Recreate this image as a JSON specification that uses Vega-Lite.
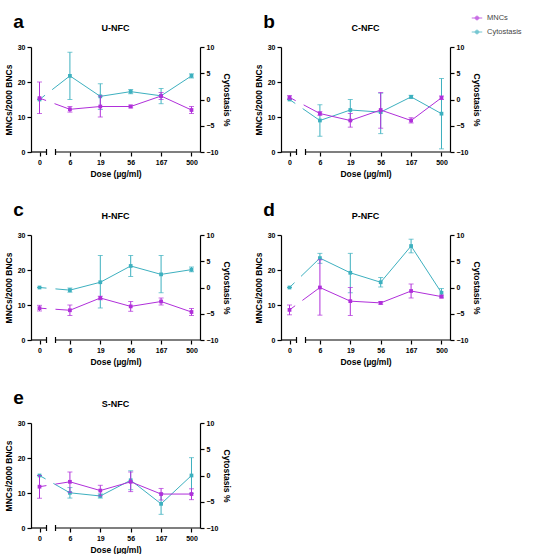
{
"$schema":"https://vega.github.io/schema/vega-lite/v6.json",
"padding":{"left":4,"top":12,"right":0,"bottom":0},
"background":"white",
"data":{"values":[
{"panel":"a","series":"MNCs","dose":"0","mean":15.4,"lo":11,"hi":20},
{"panel":"a","series":"MNCs","dose":"6","mean":12.2,"lo":11.4,"hi":13},
{"panel":"a","series":"MNCs","dose":"19","mean":13,"lo":10,"hi":16},
{"panel":"a","series":"MNCs","dose":"56","mean":13,"lo":12.6,"hi":13.4},
{"panel":"a","series":"MNCs","dose":"167","mean":16,"lo":15,"hi":17},
{"panel":"a","series":"MNCs","dose":"500","mean":12,"lo":11,"hi":13},
{"panel":"a","series":"Cytostasis","dose":"0","mean":0,"lo":0,"hi":0},
{"panel":"a","series":"Cytostasis","dose":"6","mean":4.5,"lo":0,"hi":9},
{"panel":"a","series":"Cytostasis","dose":"19","mean":0.6,"lo":-1.9,"hi":3},
{"panel":"a","series":"Cytostasis","dose":"56","mean":1.5,"lo":1.1,"hi":1.9},
{"panel":"a","series":"Cytostasis","dose":"167","mean":0.7,"lo":-0.8,"hi":2.1},
{"panel":"a","series":"Cytostasis","dose":"500","mean":4.5,"lo":4.1,"hi":4.9},
{"panel":"b","series":"MNCs","dose":"0","mean":15.6,"lo":15.1,"hi":16.1},
{"panel":"b","series":"MNCs","dose":"6","mean":11,"lo":10.5,"hi":11.5},
{"panel":"b","series":"MNCs","dose":"19","mean":9,"lo":7.1,"hi":11},
{"panel":"b","series":"MNCs","dose":"56","mean":12,"lo":6.8,"hi":17},
{"panel":"b","series":"MNCs","dose":"167","mean":9,"lo":8.3,"hi":9.8},
{"panel":"b","series":"MNCs","dose":"500","mean":15.5,"lo":15,"hi":16},
{"panel":"b","series":"Cytostasis","dose":"0","mean":0,"lo":0,"hi":0},
{"panel":"b","series":"Cytostasis","dose":"6","mean":-4,"lo":-7,"hi":-1},
{"panel":"b","series":"Cytostasis","dose":"19","mean":-2,"lo":-4,"hi":0},
{"panel":"b","series":"Cytostasis","dose":"56","mean":-2.4,"lo":-6.5,"hi":1.2},
{"panel":"b","series":"Cytostasis","dose":"167","mean":0.5,"lo":0.2,"hi":0.8},
{"panel":"b","series":"Cytostasis","dose":"500","mean":-2.7,"lo":-9.4,"hi":4},
{"panel":"c","series":"MNCs","dose":"0","mean":9.1,"lo":8.3,"hi":9.9},
{"panel":"c","series":"MNCs","dose":"6","mean":8.5,"lo":7,"hi":10},
{"panel":"c","series":"MNCs","dose":"19","mean":12,"lo":11.5,"hi":12.5},
{"panel":"c","series":"MNCs","dose":"56","mean":9.6,"lo":8.2,"hi":11},
{"panel":"c","series":"MNCs","dose":"167","mean":11,"lo":10,"hi":12},
{"panel":"c","series":"MNCs","dose":"500","mean":8,"lo":7,"hi":9},
{"panel":"c","series":"Cytostasis","dose":"0","mean":0,"lo":0,"hi":0},
{"panel":"c","series":"Cytostasis","dose":"6","mean":-0.5,"lo":-0.9,"hi":-0.1},
{"panel":"c","series":"Cytostasis","dose":"19","mean":1,"lo":-3.9,"hi":6.1},
{"panel":"c","series":"Cytostasis","dose":"56","mean":4.1,"lo":2.1,"hi":6.1},
{"panel":"c","series":"Cytostasis","dose":"167","mean":2.5,"lo":-1,"hi":6.1},
{"panel":"c","series":"Cytostasis","dose":"500","mean":3.4,"lo":3,"hi":3.9},
{"panel":"d","series":"MNCs","dose":"0","mean":8.6,"lo":7.2,"hi":10},
{"panel":"d","series":"MNCs","dose":"6","mean":15,"lo":7.1,"hi":22.9},
{"panel":"d","series":"MNCs","dose":"19","mean":11.1,"lo":7,"hi":15},
{"panel":"d","series":"MNCs","dose":"56","mean":10.6,"lo":10.2,"hi":11},
{"panel":"d","series":"MNCs","dose":"167","mean":14,"lo":12,"hi":16},
{"panel":"d","series":"MNCs","dose":"500","mean":12.4,"lo":12,"hi":12.8},
{"panel":"d","series":"Cytostasis","dose":"0","mean":0,"lo":0,"hi":0},
{"panel":"d","series":"Cytostasis","dose":"6","mean":5.6,"lo":4.6,"hi":6.5},
{"panel":"d","series":"Cytostasis","dose":"19","mean":2.8,"lo":-1,"hi":6.5},
{"panel":"d","series":"Cytostasis","dose":"56","mean":1,"lo":0.1,"hi":1.9},
{"panel":"d","series":"Cytostasis","dose":"167","mean":7.9,"lo":6.6,"hi":9.2},
{"panel":"d","series":"Cytostasis","dose":"500","mean":-1,"lo":-1.8,"hi":-0.2},
{"panel":"e","series":"MNCs","dose":"0","mean":11.8,"lo":8.5,"hi":15},
{"panel":"e","series":"MNCs","dose":"6","mean":13.2,"lo":10.2,"hi":16},
{"panel":"e","series":"MNCs","dose":"19","mean":10.7,"lo":9.2,"hi":12.2},
{"panel":"e","series":"MNCs","dose":"56","mean":13.2,"lo":10.4,"hi":16},
{"panel":"e","series":"MNCs","dose":"167","mean":9.7,"lo":8,"hi":11.3},
{"panel":"e","series":"MNCs","dose":"500","mean":9.7,"lo":8.1,"hi":11.2},
{"panel":"e","series":"Cytostasis","dose":"0","mean":0,"lo":0,"hi":0},
{"panel":"e","series":"Cytostasis","dose":"6","mean":-3.3,"lo":-4.3,"hi":-2.3},
{"panel":"e","series":"Cytostasis","dose":"19","mean":-3.9,"lo":-4.3,"hi":-3.5},
{"panel":"e","series":"Cytostasis","dose":"56","mean":-0.9,"lo":-2.7,"hi":0.9},
{"panel":"e","series":"Cytostasis","dose":"167","mean":-5.4,"lo":-7.4,"hi":-3.4},
{"panel":"e","series":"Cytostasis","dose":"500","mean":0,"lo":-3.4,"hi":3.4}
]},
"spacing":23,
"vconcat":[
{"hconcat":[
{"title":{"text":"a","anchor":"start","fontSize":19,"frame":"bounds","dx":9,"offset":-8},
 "vconcat":[{
 "width":169,"height":105,
 "title":{"text":"U-NFC","fontSize":9,"offset":10},
 "transform":[{"filter":"datum.panel == 'a'"}],
 "encoding":{
  "x":{"field":"dose","type":"ordinal","scale":{"type":"point","domain":["0","6","19","56","167","500"],"padding":0.28},"axis":{"title":"Dose (µg/ml)","domain":false,"labelAngle":0}},
  "color":{"field":"series","type":"nominal","scale":{"domain":["MNCs","Cytostasis"],"range":["#B02FDA","#3DB0BF"]},"legend":{"title":null,"orient":"none","legendX":440,"legendY":-35,"labelFontSize":7.5,"labelFontWeight":"normal","labelColor":"#444","symbolType":"M-1,0L1,0M-0.35,0A0.35,0.35 0 1,0 0.35,0A0.35,0.35 0 1,0 -0.35,0","symbolSize":110,"symbolStrokeWidth":1,"rowPadding":4}}
 },
 "layer":[
  {"transform":[{"filter":"datum.series == 'Cytostasis'"}],
   "encoding":{"y":{"field":"mean","type":"quantitative","title":"Cytostasis %","scale":{"domain":[-10,10]},"axis":{"orient":"right","values":[-10,-5,0,5,10]}}},
   "layer":[
    {"transform":[{"filter":"datum.dose != '0'"}],"mark":{"type":"line","strokeWidth":1}},
    {"transform":[{"filter":"datum.dose == '0' || datum.dose == '6'"}],"mark":{"type":"line","strokeWidth":1,"strokeDash":[7,9,60,0]}},
    {"mark":{"type":"errorbar","ticks":{"size":5},"thickness":1},"encoding":{"y":{"field":"lo","type":"quantitative","title":"Cytostasis %"},"y2":{"field":"hi"}}},
    {"mark":{"type":"point","shape":"square","filled":true,"size":14,"opacity":1}}
   ]},
  {"transform":[{"filter":"datum.series == 'MNCs'"}],
   "encoding":{"y":{"field":"mean","type":"quantitative","title":"MNCs/2000 BNCs","scale":{"domain":[0,30]},"axis":{"values":[0,10,20,30]}}},
   "layer":[
    {"transform":[{"filter":"datum.dose != '0'"}],"mark":{"type":"line","strokeWidth":1}},
    {"transform":[{"filter":"datum.dose == '0' || datum.dose == '6'"}],"mark":{"type":"line","strokeWidth":1,"strokeDash":[7,9,60,0]}},
    {"mark":{"type":"errorbar","ticks":{"size":5},"thickness":1},"encoding":{"y":{"field":"lo","type":"quantitative","title":"MNCs/2000 BNCs"},"y2":{"field":"hi"}}},
    {"mark":{"type":"point","shape":"square","filled":true,"size":14,"opacity":1}},
    {"transform":[{"filter":"datum.dose == '0'"}],"mark":{"type":"rule","strokeWidth":1.2,"xOffset":-8.5,"x2Offset":7},"encoding":{"x":{"field":"dose","type":"ordinal"},"x2":{"field":"dose"},"y":{"value":"height"},"color":{"value":"black"}}},
    {"transform":[{"filter":"datum.dose == '0'"}],"mark":{"type":"rule","strokeWidth":1.2,"xOffset":16,"x2Offset":160.5},"encoding":{"x":{"field":"dose","type":"ordinal"},"x2":{"field":"dose"},"y":{"value":"height"},"color":{"value":"black"}}},
    {"transform":[{"filter":"datum.dose == '0'"}],"mark":{"type":"rule","strokeWidth":1.2,"xOffset":7,"yOffset":-3,"y2Offset":3},"encoding":{"x":{"field":"dose","type":"ordinal"},"y":{"value":"height"},"y2":{"value":"height"},"color":{"value":"black"}}},
    {"transform":[{"filter":"datum.dose == '0'"}],"mark":{"type":"rule","strokeWidth":1.2,"xOffset":16,"yOffset":-3,"y2Offset":3},"encoding":{"x":{"field":"dose","type":"ordinal"},"y":{"value":"height"},"y2":{"value":"height"},"color":{"value":"black"}}}
   ]}
 ],
 "resolve":{"scale":{"y":"independent"}}
 }]},
{"title":{"text":"b","anchor":"start","fontSize":19,"frame":"bounds","dx":9,"offset":-8},
 "vconcat":[{
 "width":169,"height":105,
 "title":{"text":"C-NFC","fontSize":9,"offset":10},
 "transform":[{"filter":"datum.panel == 'b'"}],
 "encoding":{
  "x":{"field":"dose","type":"ordinal","scale":{"type":"point","domain":["0","6","19","56","167","500"],"padding":0.28},"axis":{"title":"Dose (µg/ml)","domain":false,"labelAngle":0}},
  "color":{"field":"series","type":"nominal","scale":{"domain":["MNCs","Cytostasis"],"range":["#B02FDA","#3DB0BF"]},"legend":{"title":null,"orient":"none","legendX":440,"legendY":-35,"labelFontSize":7.5,"labelFontWeight":"normal","labelColor":"#444","symbolType":"M-1,0L1,0M-0.35,0A0.35,0.35 0 1,0 0.35,0A0.35,0.35 0 1,0 -0.35,0","symbolSize":110,"symbolStrokeWidth":1,"rowPadding":4}}
 },
 "layer":[
  {"transform":[{"filter":"datum.series == 'Cytostasis'"}],
   "encoding":{"y":{"field":"mean","type":"quantitative","title":"Cytostasis %","scale":{"domain":[-10,10]},"axis":{"orient":"right","values":[-10,-5,0,5,10]}}},
   "layer":[
    {"transform":[{"filter":"datum.dose != '0'"}],"mark":{"type":"line","strokeWidth":1}},
    {"transform":[{"filter":"datum.dose == '0' || datum.dose == '6'"}],"mark":{"type":"line","strokeWidth":1,"strokeDash":[7,9,60,0]}},
    {"mark":{"type":"errorbar","ticks":{"size":5},"thickness":1},"encoding":{"y":{"field":"lo","type":"quantitative","title":"Cytostasis %"},"y2":{"field":"hi"}}},
    {"mark":{"type":"point","shape":"square","filled":true,"size":14,"opacity":1}}
   ]},
  {"transform":[{"filter":"datum.series == 'MNCs'"}],
   "encoding":{"y":{"field":"mean","type":"quantitative","title":"MNCs/2000 BNCs","scale":{"domain":[0,30]},"axis":{"values":[0,10,20,30]}}},
   "layer":[
    {"transform":[{"filter":"datum.dose != '0'"}],"mark":{"type":"line","strokeWidth":1}},
    {"transform":[{"filter":"datum.dose == '0' || datum.dose == '6'"}],"mark":{"type":"line","strokeWidth":1,"strokeDash":[7,9,60,0]}},
    {"mark":{"type":"errorbar","ticks":{"size":5},"thickness":1},"encoding":{"y":{"field":"lo","type":"quantitative","title":"MNCs/2000 BNCs"},"y2":{"field":"hi"}}},
    {"mark":{"type":"point","shape":"square","filled":true,"size":14,"opacity":1}},
    {"transform":[{"filter":"datum.dose == '0'"}],"mark":{"type":"rule","strokeWidth":1.2,"xOffset":-8.5,"x2Offset":7},"encoding":{"x":{"field":"dose","type":"ordinal"},"x2":{"field":"dose"},"y":{"value":"height"},"color":{"value":"black"}}},
    {"transform":[{"filter":"datum.dose == '0'"}],"mark":{"type":"rule","strokeWidth":1.2,"xOffset":16,"x2Offset":160.5},"encoding":{"x":{"field":"dose","type":"ordinal"},"x2":{"field":"dose"},"y":{"value":"height"},"color":{"value":"black"}}},
    {"transform":[{"filter":"datum.dose == '0'"}],"mark":{"type":"rule","strokeWidth":1.2,"xOffset":7,"yOffset":-3,"y2Offset":3},"encoding":{"x":{"field":"dose","type":"ordinal"},"y":{"value":"height"},"y2":{"value":"height"},"color":{"value":"black"}}},
    {"transform":[{"filter":"datum.dose == '0'"}],"mark":{"type":"rule","strokeWidth":1.2,"xOffset":16,"yOffset":-3,"y2Offset":3},"encoding":{"x":{"field":"dose","type":"ordinal"},"y":{"value":"height"},"y2":{"value":"height"},"color":{"value":"black"}}}
   ]}
 ],
 "resolve":{"scale":{"y":"independent"}}
 }]}
],"spacing":23},
{"hconcat":[
{"title":{"text":"c","anchor":"start","fontSize":19,"frame":"bounds","dx":9,"offset":-8},
 "vconcat":[{
 "width":169,"height":105,
 "title":{"text":"H-NFC","fontSize":9,"offset":10},
 "transform":[{"filter":"datum.panel == 'c'"}],
 "encoding":{
  "x":{"field":"dose","type":"ordinal","scale":{"type":"point","domain":["0","6","19","56","167","500"],"padding":0.28},"axis":{"title":"Dose (µg/ml)","domain":false,"labelAngle":0}},
  "color":{"field":"series","type":"nominal","scale":{"domain":["MNCs","Cytostasis"],"range":["#B02FDA","#3DB0BF"]},"legend":{"title":null,"orient":"none","legendX":440,"legendY":-35,"labelFontSize":7.5,"labelFontWeight":"normal","labelColor":"#444","symbolType":"M-1,0L1,0M-0.35,0A0.35,0.35 0 1,0 0.35,0A0.35,0.35 0 1,0 -0.35,0","symbolSize":110,"symbolStrokeWidth":1,"rowPadding":4}}
 },
 "layer":[
  {"transform":[{"filter":"datum.series == 'Cytostasis'"}],
   "encoding":{"y":{"field":"mean","type":"quantitative","title":"Cytostasis %","scale":{"domain":[-10,10]},"axis":{"orient":"right","values":[-10,-5,0,5,10]}}},
   "layer":[
    {"transform":[{"filter":"datum.dose != '0'"}],"mark":{"type":"line","strokeWidth":1}},
    {"transform":[{"filter":"datum.dose == '0' || datum.dose == '6'"}],"mark":{"type":"line","strokeWidth":1,"strokeDash":[7,9,60,0]}},
    {"mark":{"type":"errorbar","ticks":{"size":5},"thickness":1},"encoding":{"y":{"field":"lo","type":"quantitative","title":"Cytostasis %"},"y2":{"field":"hi"}}},
    {"mark":{"type":"point","shape":"square","filled":true,"size":14,"opacity":1}}
   ]},
  {"transform":[{"filter":"datum.series == 'MNCs'"}],
   "encoding":{"y":{"field":"mean","type":"quantitative","title":"MNCs/2000 BNCs","scale":{"domain":[0,30]},"axis":{"values":[0,10,20,30]}}},
   "layer":[
    {"transform":[{"filter":"datum.dose != '0'"}],"mark":{"type":"line","strokeWidth":1}},
    {"transform":[{"filter":"datum.dose == '0' || datum.dose == '6'"}],"mark":{"type":"line","strokeWidth":1,"strokeDash":[7,9,60,0]}},
    {"mark":{"type":"errorbar","ticks":{"size":5},"thickness":1},"encoding":{"y":{"field":"lo","type":"quantitative","title":"MNCs/2000 BNCs"},"y2":{"field":"hi"}}},
    {"mark":{"type":"point","shape":"square","filled":true,"size":14,"opacity":1}},
    {"transform":[{"filter":"datum.dose == '0'"}],"mark":{"type":"rule","strokeWidth":1.2,"xOffset":-8.5,"x2Offset":7},"encoding":{"x":{"field":"dose","type":"ordinal"},"x2":{"field":"dose"},"y":{"value":"height"},"color":{"value":"black"}}},
    {"transform":[{"filter":"datum.dose == '0'"}],"mark":{"type":"rule","strokeWidth":1.2,"xOffset":16,"x2Offset":160.5},"encoding":{"x":{"field":"dose","type":"ordinal"},"x2":{"field":"dose"},"y":{"value":"height"},"color":{"value":"black"}}},
    {"transform":[{"filter":"datum.dose == '0'"}],"mark":{"type":"rule","strokeWidth":1.2,"xOffset":7,"yOffset":-3,"y2Offset":3},"encoding":{"x":{"field":"dose","type":"ordinal"},"y":{"value":"height"},"y2":{"value":"height"},"color":{"value":"black"}}},
    {"transform":[{"filter":"datum.dose == '0'"}],"mark":{"type":"rule","strokeWidth":1.2,"xOffset":16,"yOffset":-3,"y2Offset":3},"encoding":{"x":{"field":"dose","type":"ordinal"},"y":{"value":"height"},"y2":{"value":"height"},"color":{"value":"black"}}}
   ]}
 ],
 "resolve":{"scale":{"y":"independent"}}
 }]},
{"title":{"text":"d","anchor":"start","fontSize":19,"frame":"bounds","dx":9,"offset":-8},
 "vconcat":[{
 "width":169,"height":105,
 "title":{"text":"P-NFC","fontSize":9,"offset":10},
 "transform":[{"filter":"datum.panel == 'd'"}],
 "encoding":{
  "x":{"field":"dose","type":"ordinal","scale":{"type":"point","domain":["0","6","19","56","167","500"],"padding":0.28},"axis":{"title":"Dose (µg/ml)","domain":false,"labelAngle":0}},
  "color":{"field":"series","type":"nominal","scale":{"domain":["MNCs","Cytostasis"],"range":["#B02FDA","#3DB0BF"]},"legend":{"title":null,"orient":"none","legendX":440,"legendY":-35,"labelFontSize":7.5,"labelFontWeight":"normal","labelColor":"#444","symbolType":"M-1,0L1,0M-0.35,0A0.35,0.35 0 1,0 0.35,0A0.35,0.35 0 1,0 -0.35,0","symbolSize":110,"symbolStrokeWidth":1,"rowPadding":4}}
 },
 "layer":[
  {"transform":[{"filter":"datum.series == 'Cytostasis'"}],
   "encoding":{"y":{"field":"mean","type":"quantitative","title":"Cytostasis %","scale":{"domain":[-10,10]},"axis":{"orient":"right","values":[-10,-5,0,5,10]}}},
   "layer":[
    {"transform":[{"filter":"datum.dose != '0'"}],"mark":{"type":"line","strokeWidth":1}},
    {"transform":[{"filter":"datum.dose == '0' || datum.dose == '6'"}],"mark":{"type":"line","strokeWidth":1,"strokeDash":[7,9,60,0]}},
    {"mark":{"type":"errorbar","ticks":{"size":5},"thickness":1},"encoding":{"y":{"field":"lo","type":"quantitative","title":"Cytostasis %"},"y2":{"field":"hi"}}},
    {"mark":{"type":"point","shape":"square","filled":true,"size":14,"opacity":1}}
   ]},
  {"transform":[{"filter":"datum.series == 'MNCs'"}],
   "encoding":{"y":{"field":"mean","type":"quantitative","title":"MNCs/2000 BNCs","scale":{"domain":[0,30]},"axis":{"values":[0,10,20,30]}}},
   "layer":[
    {"transform":[{"filter":"datum.dose != '0'"}],"mark":{"type":"line","strokeWidth":1}},
    {"transform":[{"filter":"datum.dose == '0' || datum.dose == '6'"}],"mark":{"type":"line","strokeWidth":1,"strokeDash":[7,9,60,0]}},
    {"mark":{"type":"errorbar","ticks":{"size":5},"thickness":1},"encoding":{"y":{"field":"lo","type":"quantitative","title":"MNCs/2000 BNCs"},"y2":{"field":"hi"}}},
    {"mark":{"type":"point","shape":"square","filled":true,"size":14,"opacity":1}},
    {"transform":[{"filter":"datum.dose == '0'"}],"mark":{"type":"rule","strokeWidth":1.2,"xOffset":-8.5,"x2Offset":7},"encoding":{"x":{"field":"dose","type":"ordinal"},"x2":{"field":"dose"},"y":{"value":"height"},"color":{"value":"black"}}},
    {"transform":[{"filter":"datum.dose == '0'"}],"mark":{"type":"rule","strokeWidth":1.2,"xOffset":16,"x2Offset":160.5},"encoding":{"x":{"field":"dose","type":"ordinal"},"x2":{"field":"dose"},"y":{"value":"height"},"color":{"value":"black"}}},
    {"transform":[{"filter":"datum.dose == '0'"}],"mark":{"type":"rule","strokeWidth":1.2,"xOffset":7,"yOffset":-3,"y2Offset":3},"encoding":{"x":{"field":"dose","type":"ordinal"},"y":{"value":"height"},"y2":{"value":"height"},"color":{"value":"black"}}},
    {"transform":[{"filter":"datum.dose == '0'"}],"mark":{"type":"rule","strokeWidth":1.2,"xOffset":16,"yOffset":-3,"y2Offset":3},"encoding":{"x":{"field":"dose","type":"ordinal"},"y":{"value":"height"},"y2":{"value":"height"},"color":{"value":"black"}}}
   ]}
 ],
 "resolve":{"scale":{"y":"independent"}}
 }]}
],"spacing":23},
{"hconcat":[
{"title":{"text":"e","anchor":"start","fontSize":19,"frame":"bounds","dx":9,"offset":-8},
 "vconcat":[{
 "width":169,"height":105,
 "title":{"text":"S-NFC","fontSize":9,"offset":10},
 "transform":[{"filter":"datum.panel == 'e'"}],
 "encoding":{
  "x":{"field":"dose","type":"ordinal","scale":{"type":"point","domain":["0","6","19","56","167","500"],"padding":0.28},"axis":{"title":"Dose (µg/ml)","domain":false,"labelAngle":0}},
  "color":{"field":"series","type":"nominal","scale":{"domain":["MNCs","Cytostasis"],"range":["#B02FDA","#3DB0BF"]},"legend":{"title":null,"orient":"none","legendX":440,"legendY":-35,"labelFontSize":7.5,"labelFontWeight":"normal","labelColor":"#444","symbolType":"M-1,0L1,0M-0.35,0A0.35,0.35 0 1,0 0.35,0A0.35,0.35 0 1,0 -0.35,0","symbolSize":110,"symbolStrokeWidth":1,"rowPadding":4}}
 },
 "layer":[
  {"transform":[{"filter":"datum.series == 'Cytostasis'"}],
   "encoding":{"y":{"field":"mean","type":"quantitative","title":"Cytostasis %","scale":{"domain":[-10,10]},"axis":{"orient":"right","values":[-10,-5,0,5,10]}}},
   "layer":[
    {"transform":[{"filter":"datum.dose != '0'"}],"mark":{"type":"line","strokeWidth":1}},
    {"transform":[{"filter":"datum.dose == '0' || datum.dose == '6'"}],"mark":{"type":"line","strokeWidth":1,"strokeDash":[7,9,60,0]}},
    {"mark":{"type":"errorbar","ticks":{"size":5},"thickness":1},"encoding":{"y":{"field":"lo","type":"quantitative","title":"Cytostasis %"},"y2":{"field":"hi"}}},
    {"mark":{"type":"point","shape":"square","filled":true,"size":14,"opacity":1}}
   ]},
  {"transform":[{"filter":"datum.series == 'MNCs'"}],
   "encoding":{"y":{"field":"mean","type":"quantitative","title":"MNCs/2000 BNCs","scale":{"domain":[0,30]},"axis":{"values":[0,10,20,30]}}},
   "layer":[
    {"transform":[{"filter":"datum.dose != '0'"}],"mark":{"type":"line","strokeWidth":1}},
    {"transform":[{"filter":"datum.dose == '0' || datum.dose == '6'"}],"mark":{"type":"line","strokeWidth":1,"strokeDash":[7,9,60,0]}},
    {"mark":{"type":"errorbar","ticks":{"size":5},"thickness":1},"encoding":{"y":{"field":"lo","type":"quantitative","title":"MNCs/2000 BNCs"},"y2":{"field":"hi"}}},
    {"mark":{"type":"point","shape":"square","filled":true,"size":14,"opacity":1}},
    {"transform":[{"filter":"datum.dose == '0'"}],"mark":{"type":"rule","strokeWidth":1.2,"xOffset":-8.5,"x2Offset":7},"encoding":{"x":{"field":"dose","type":"ordinal"},"x2":{"field":"dose"},"y":{"value":"height"},"color":{"value":"black"}}},
    {"transform":[{"filter":"datum.dose == '0'"}],"mark":{"type":"rule","strokeWidth":1.2,"xOffset":16,"x2Offset":160.5},"encoding":{"x":{"field":"dose","type":"ordinal"},"x2":{"field":"dose"},"y":{"value":"height"},"color":{"value":"black"}}},
    {"transform":[{"filter":"datum.dose == '0'"}],"mark":{"type":"rule","strokeWidth":1.2,"xOffset":7,"yOffset":-3,"y2Offset":3},"encoding":{"x":{"field":"dose","type":"ordinal"},"y":{"value":"height"},"y2":{"value":"height"},"color":{"value":"black"}}},
    {"transform":[{"filter":"datum.dose == '0'"}],"mark":{"type":"rule","strokeWidth":1.2,"xOffset":16,"yOffset":-3,"y2Offset":3},"encoding":{"x":{"field":"dose","type":"ordinal"},"y":{"value":"height"},"y2":{"value":"height"},"color":{"value":"black"}}}
   ]}
 ],
 "resolve":{"scale":{"y":"independent"}}
 }]}
]}
],
"config":{
 "font":"Liberation Sans",
 "view":{"stroke":null},
 "tick":{"bandSize":5},
 "axis":{"grid":false,"domainColor":"#000","tickColor":"#000","labelColor":"#000","titleColor":"#000","labelFontWeight":"bold","titleFontWeight":"bold","labelFontSize":7,"titleFontSize":8.5,"domainWidth":1.2,"tickWidth":1.2,"tickSize":4,"labelPadding":2,"titlePadding":4},
 "title":{"fontWeight":"bold","color":"#000"}
}
}
